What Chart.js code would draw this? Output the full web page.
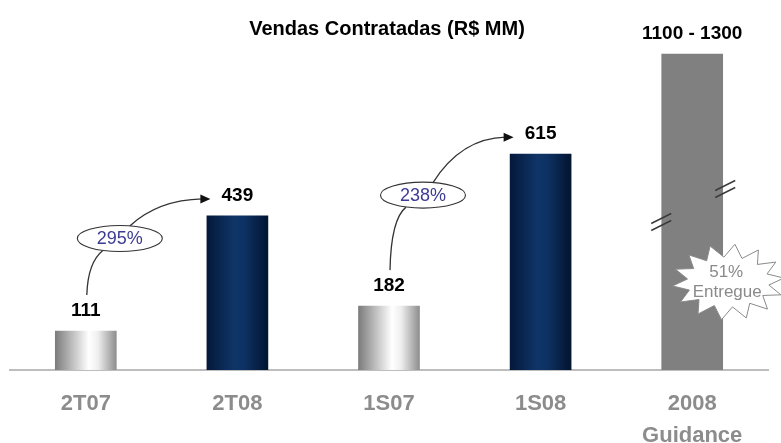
<!DOCTYPE html>
<html>
<head>
<meta charset="utf-8">
<script src="https://cdn.jsdelivr.net/npm/chart.js@4.4.1/dist/chart.umd.min.js"></script>
<style>
  html, body { margin: 0; padding: 0; background: #fff; }
  #wrap { width: 781px; height: 443px; }
</style>
</head>
<body>
<div id="wrap"><canvas id="salesChart"></canvas></div>
<script>
const chartTitle = 'Vendas Contratadas (R$ MM)';
const categories = ['2T07', '2T08', '1S07', '1S08', ['2008', 'Guidance']];
// last bar is drawn on a broken axis, so its height is only a stand-in
const salesValues = [111, 439, 182, 615, 900];
const valueLabels = ['111', '439', '182', '615', '1100 - 1300'];
const barStyles = ['silver', 'navy', 'silver', 'navy', 'flat'];
const growthLabels = ['295%', '238%'];
const growthFrom = [0, 2];
const growthTo = [1, 3];
const deliveredLabel = ['51%', 'Entregue'];

const FONT = "'Liberation Sans', Arial, sans-serif";

function barFill(ctx) {
    const chart = ctx.chart;
    const style = barStyles[ctx.dataIndex];
    if (style === 'flat') return '#808080';
    if (!chart.chartArea || !chart.scales.x) return style === 'navy' ? '#0c2c58' : '#cccccc';
    const cx = chart.scales.x.getPixelForValue(ctx.dataIndex);
    const g = chart.ctx.createLinearGradient(cx - 30.5, 0, cx + 30.5, 0);
    if (style === 'navy') {
        g.addColorStop(0, '#04183a');
        g.addColorStop(0.45, '#0f3568');
        g.addColorStop(0.62, '#0d3162');
        g.addColorStop(1, '#021430');
    } else {
        g.addColorStop(0, '#7c7c7c');
        g.addColorStop(0.55, '#ffffff');
        g.addColorStop(0.7, '#eeeeee');
        g.addColorStop(1, '#8e8e8e');
    }
    return g;
}

function drawArrowHead(c, x, y) {
    c.beginPath();
    c.moveTo(x, y);
    c.lineTo(x - 10, y - 4.5);
    c.lineTo(x - 10, y + 4.5);
    c.closePath();
    c.fill();
}

const annotations = {
    id: 'annotations',
    afterDatasetsDraw(chart) {
        const c = chart.ctx;
        const bars = chart.getDatasetMeta(0).data;
        const labelY = bars.map(b => b.y - 20);

        c.save();
        // title
        c.fillStyle = '#000';
        c.font = 'bold 20px ' + FONT;
        c.textAlign = 'center';
        c.textBaseline = 'middle';
        c.fillText(chartTitle, 387, 29);

        // value labels
        c.font = 'bold 19px ' + FONT;
        bars.forEach((b, i) => c.fillText(valueLabels[i], b.x, labelY[i]));

        // growth arrows with ellipse
        growthLabels.forEach((txt, k) => {
            const a = bars[growthFrom[k]], b = bars[growthTo[k]];
            const ya = labelY[growthFrom[k]], yb = labelY[growthTo[k]];
            const ex = a.x + 34, ey = (ya + yb) / 2 - 15;
            const rx = 42.5, ry = 13;
            const sx = a.x + 1, sy = ya - 16;
            const lx = ex - 17, ly = ey + ry - 1;
            const ux = ex + 10, uy = ey - ry + 0.5;
            const tx = b.x - 27, ty = yb + 3;
            c.strokeStyle = '#333';
            c.fillStyle = '#111';
            c.lineWidth = 1.3;
            c.beginPath();
            c.moveTo(sx, sy);
            c.quadraticCurveTo(sx + 1, ly + 12, lx, ly);
            c.stroke();
            c.beginPath();
            c.moveTo(ux, uy);
            c.quadraticCurveTo(ux + 0.35 * (tx - ux), ty + 1, tx - 8, ty);
            c.stroke();
            drawArrowHead(c, tx, ty);
            c.beginPath();
            c.ellipse(ex, ey, rx, ry, 0, 0, Math.PI * 2);
            c.fillStyle = '#fff';
            c.fill();
            c.strokeStyle = '#333';
            c.lineWidth = 1.1;
            c.stroke();
            c.fillStyle = '#3c3c92';
            c.font = '18px ' + FONT;
            c.fillText(txt, ex, ey + 1);
        });

        // axis break marks on the guidance bar
        const g = bars[4];
        c.strokeStyle = '#3a3a3a';
        c.lineWidth = 1.4;
        [[g.x - 31, 222], [g.x + 33, 189]].forEach(([mx, my]) => {
            [-3.5, 3.5].forEach(off => {
                c.beginPath();
                c.moveTo(mx - 10, my + off + 5);
                c.lineTo(mx + 10, my + off - 5);
                c.stroke();
            });
        });

        // starburst
        const bx = g.x + 36, by = g.base - 88;
        const spikes = 14;
        c.beginPath();
        for (let i = 0; i < spikes * 2; i++) {
            const ang = -Math.PI / 2 + i * Math.PI / spikes + 0.12;
            const out = i % 2 === 0;
            const rX = out ? 56 : 41, rY = out ? 38 : 25;
            const px = bx + Math.cos(ang) * rX, py = by + Math.sin(ang) * rY;
            if (i === 0) c.moveTo(px, py); else c.lineTo(px, py);
        }
        c.closePath();
        c.fillStyle = '#fff';
        c.fill();
        c.strokeStyle = '#8a8a8a';
        c.lineWidth = 1;
        c.stroke();
        c.fillStyle = '#8a8a8a';
        c.font = '17px ' + FONT;
        c.fillText(deliveredLabel[0], bx - 2, by - 10);
        c.fillText(deliveredLabel[1], bx - 1, by + 10);
        c.restore();
    }
};

document.addEventListener('DOMContentLoaded', () => {
    new Chart(document.getElementById('salesChart').getContext('2d'), {
        type: 'bar',
        data: {
            labels: categories,
            datasets: [{
                label: chartTitle,
                data: salesValues,
                backgroundColor: barFill,
                borderWidth: 0,
                barThickness: 61
            }]
        },
        options: {
            responsive: true,
            maintainAspectRatio: false,
            animation: false,
            layout: { padding: { top: 19, left: 10, right: 13, bottom: 0 } },
            plugins: {
                legend: { display: false },
                tooltip: { enabled: false },
                title: { display: false }
            },
            scales: {
                x: {
                    grid: { display: false },
                    border: { display: true, color: '#bdbdbd', width: 2 },
                    ticks: {
                        color: '#8c8c8c',
                        padding: 10,
                        font: { family: FONT, size: 22, weight: 'bold', lineHeight: 1.45 }
                    },
                    afterFit(scale) { scale.height = 73; }
                },
                y: {
                    display: false,
                    min: 0,
                    max: 1000
                }
            }
        },
        plugins: [annotations]
    });
});
</script>
</body>
</html>
